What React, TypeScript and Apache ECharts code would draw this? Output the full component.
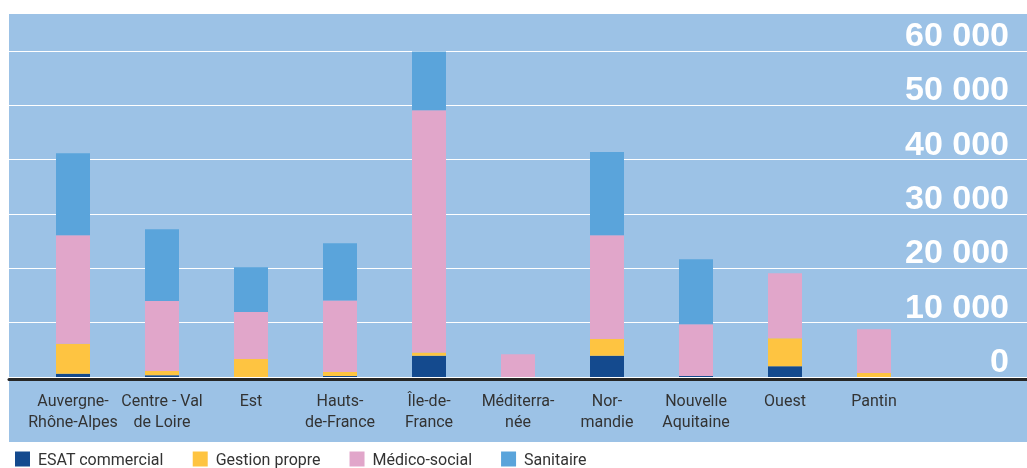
import React, { useEffect, useRef } from "react";
import * as echarts from "echarts";

const categories = [
  "Auvergne-\nRhône-Alpes",
  "Centre - Val\nde Loire",
  "Est",
  "Hauts-\nde-France",
  "Île-de-\nFrance",
  "Méditerra-\nnée",
  "Nor-\nmandie",
  "Nouvelle\nAquitaine",
  "Ouest",
  "Pantin",
];
const esatCommercial = [600, 300, 0, 200, 3900, 0, 3900, 200, 2000, 0];
const gestionPropre = [5500, 800, 3300, 700, 600, 0, 3100, 0, 5150, 750];
const medicoSocial = [20000, 12900, 8650, 13200, 44600, 4200, 19100, 9500, 11950, 8050];
const sanitaire = [15100, 13200, 8250, 10500, 10800, 0, 15300, 11950, 0, 0];
const seriesNames = ["ESAT commercial", "Gestion propre", "Médico-social", "Sanitaire"];
const yMax = 60000;
const yInterval = 10000;

const COLORS = ["#144A8E", "#FEC441", "#E1A6CA", "#5AA4DB"];
const BG = "#9CC2E6";
const TEXT_FONT = "Roboto, 'Noto Sans', sans-serif";
const NUM_FONT = "'Liberation Sans', Arial, sans-serif";

export default function App() {
  const ref = useRef<HTMLDivElement>(null);
  useEffect(() => {
    if (!ref.current) return;
    const chart = echarts.init(ref.current, null, { renderer: "svg" });
    const values = [esatCommercial, gestionPropre, medicoSocial, sanitaire];
    chart.setOption({
      animation: false,
      graphic: [
        {
          type: "rect",
          z: -100,
          shape: { x: 9, y: 14, width: 1018, height: 428 },
          style: { fill: BG },
          silent: true,
        },
      ],
      legend: {
        left: 10,
        top: 446,
        itemWidth: 15,
        itemHeight: 15,
        itemGap: 29,
        icon: "rect",
        data: seriesNames,
        textStyle: {
          fontFamily: TEXT_FONT,
          fontSize: 16,
          color: "#333333",
          padding: [0, 0, 0, 3],
        },
      },
      grid: [
        { left: 9, right: 0, top: 51, height: 326 },
        { left: 28.5, width: 890, top: 51, height: 326 },
      ],
      xAxis: [
        {
          gridIndex: 0,
          type: "value",
          min: 0,
          max: 1,
          offset: 2.5,
          axisLine: { show: true, onZero: false, lineStyle: { color: "#262626", width: 3 } },
          axisTick: { show: false },
          axisLabel: { show: false },
          splitLine: { show: false },
        },
        {
          gridIndex: 1,
          type: "category",
          data: categories,
          axisLine: { show: false },
          axisTick: { show: false },
          axisLabel: {
            interval: 0,
            margin: 13,
            fontFamily: TEXT_FONT,
            fontSize: 16,
            lineHeight: 21,
            color: "#333333",
          },
        },
      ],
      yAxis: [
        {
          gridIndex: 0,
          type: "value",
          position: "right",
          min: 0,
          max: yMax,
          interval: yInterval,
          axisLine: { show: false },
          axisTick: { show: false },
          splitLine: { show: true, lineStyle: { color: "#ffffff", width: 1 } },
          axisLabel: {
            inside: true,
            margin: 18,
            align: "right",
            verticalAlign: "bottom",
            fontFamily: NUM_FONT,
            fontWeight: "bold",
            fontSize: 34,
            color: "#ffffff",
            formatter: (v: number) => (v === 0 ? "0" : `${v / 1000} 000`),
          },
        },
        {
          gridIndex: 1,
          type: "value",
          min: 0,
          max: yMax,
          interval: yInterval,
          show: false,
          splitLine: { show: false },
        },
      ],
      series: seriesNames.map((name, i) => ({
        name,
        type: "bar",
        stack: "total",
        xAxisIndex: 1,
        yAxisIndex: 1,
        barWidth: 34,
        itemStyle: { color: COLORS[i] },
        data: values[i],
      })),
    });
    return () => chart.dispose();
  }, []);
  return (
    <div
      ref={ref}
      style={{ position: "fixed", left: 0, top: 0, width: 1027, height: 468 }}
    />
  );
}
